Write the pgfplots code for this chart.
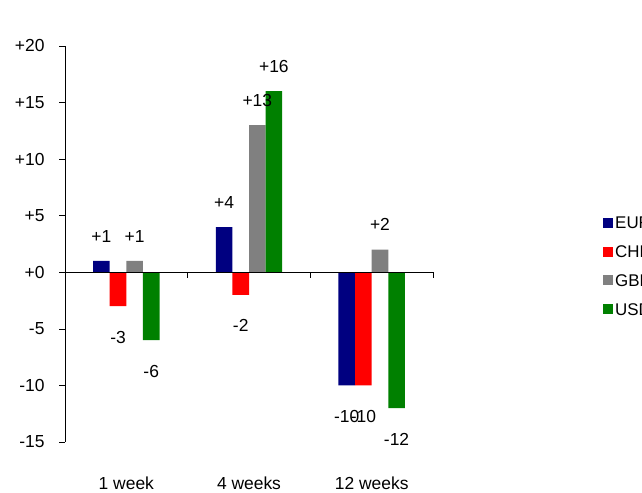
\documentclass[border=0pt]{standalone}
\usepackage{pgfplots}
\pgfplotsset{compat=1.18}
\usepackage{fontspec}
\setmainfont{Liberation Sans}
\definecolor{cEUR}{HTML}{000080}
\definecolor{cCHF}{HTML}{FF0000}
\definecolor{cGBP}{HTML}{808080}
\definecolor{cUSD}{HTML}{008000}
\begin{document}
\begin{tikzpicture}[x=1bp,y=1bp]
\path[use as bounding box] (0,0) rectangle (642,493);
\clip (0,0) rectangle (642,493);
\begin{axis}[
  at={(65bp,51bp)}, anchor=south west,
  scale only axis, width=368bp, height=396bp,
  xmin=-0.5, xmax=2.5, ymin=-15, ymax=20,
  axis lines*=left,
  x axis line style={draw=none},
  xtick={0,1,2}, xticklabels={1 week,4 weeks,12 weeks},
  xtick style={draw=none},
  ytick={-15,-10,-5,0,5,10,15,20},
  yticklabels={-15,-10,-5,+0,+5,+10,+15,+20},
  tick align=outside, major tick length=6bp,
  ytick style={black, line width=0.6pt},
  y axis line style={line width=0.8pt},
  tick label style={font=\fontsize{17.5}{21}\selectfont},
  yticklabel style={xshift=-11bp},
  xticklabel style={yshift=-25bp},
  ybar=0pt, bar width=16.6bp,
  clip=false,
  point meta=explicit symbolic,
  nodes near coords,
  nodes near coords align={anchor=center},
  visualization depends on={rawy \as \rawy},
  every node near coord/.append style={font=\fontsize{17.5}{21}\selectfont, anchor=center, inner sep=0pt,
     yshift={ifthenelse(\rawy<0,-31,25)}},
  legend style={at={(1.462,0.573)}, anchor=north west, draw=none, fill=none,
     font=\fontsize{17}{20}\selectfont, row sep=11.5bp, inner sep=0pt,
     /tikz/every even column/.append style={column sep=4bp}},
  legend cell align=left,
  legend image code/.code={\fill[#1] (0bp,-4bp) rectangle (10bp,6bp);},
]
\addplot[fill=cEUR, draw=none] coordinates {(0,1) [+1] (1,4) [+4] (2,-10) [-10]};
\addplot[fill=cCHF, draw=none] coordinates {(0,-3) [-3] (1,-2) [-2] (2,-10) [-10]};
\addplot[fill=cGBP, draw=none] coordinates {(0,1) [+1] (1,13) [+13] (2,2) [+2]};
\addplot[fill=cUSD, draw=none] coordinates {(0,-6) [-6] (1,16) [+16] (2,-12) [-12]};
\legend{EUR,CHF,GBP,USD}
\draw[line width=0.8pt] (axis cs:-0.5,0) -- (axis cs:2.5,0);
\draw[line width=0.6pt] (axis cs:0.5,0) -- ++(0pt,-6bp);
\draw[line width=0.6pt] (axis cs:1.5,0) -- ++(0pt,-6bp);
\draw[line width=0.6pt] (axis cs:2.5,0) -- ++(0pt,-6bp);
\end{axis}
\end{tikzpicture}
\end{document}
